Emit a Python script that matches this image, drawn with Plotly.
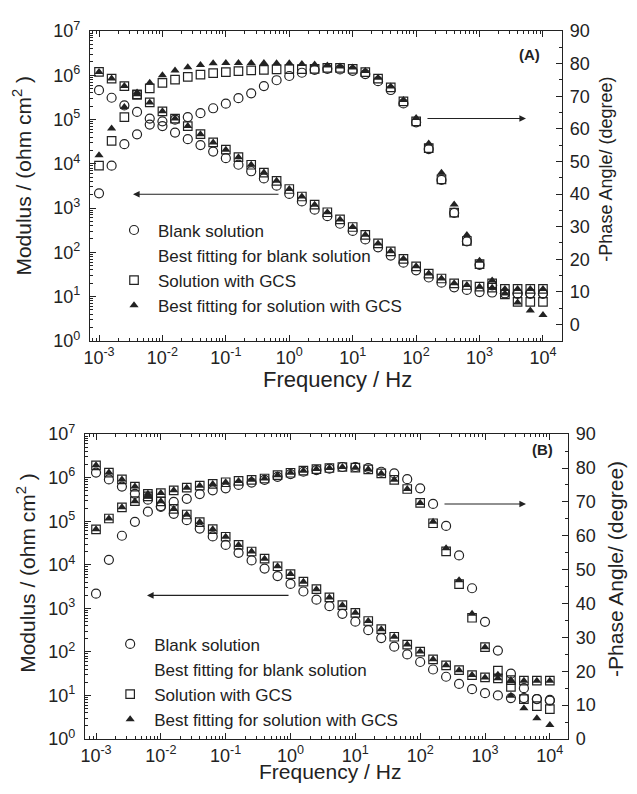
import plotly.graph_objects as go

# ---------------- data ----------------
freq = [0.001, 0.00158, 0.00251, 0.00398, 0.00631,
        0.01, 0.0158, 0.0251, 0.0398, 0.0631,
        0.1, 0.158, 0.251, 0.398, 0.631,
        1.0, 1.58, 2.51, 3.98, 6.31,
        10, 15.8, 25.1, 39.8, 63.1,
        100, 158, 251, 398, 631,
        1000, 1580, 2510, 3980, 6310, 10000]

# Panel A
A_blank_mod = [4.6e5, 3.1e5, 2.08e5, 1.48e5, 1.05e5, 7.1e4, 5.06e4, 3.6e4, 2.64e4, 1.88e4,
               1.34e4, 9.5e3, 6.76e3, 4.65e3, 3.19e3, 2.08e3, 1.41e3, 918, 653, 441,
               303, 195, 129, 84, 58, 39, 26.9, 20.5, 16.1, 14.1,
               12.6, 12.3, 11.7, 11.5, 11.5, 11.5]
A_blank_phase = [40.2, 48.7, 55.3, 58.3, 61.3, 62.3, 62.8, 63.6, 64.8, 66.3,
                 67.7, 69.4, 70.9, 73.1, 74.9, 76.2, 77.2, 78.1, 78.4, 78.2,
                 77.8, 76.8, 74.6, 71.9, 67.8, 62.0, 53.8, 44.3, 34.2, 25.5,
                 18.3, 12.0, 9.5, 9.5, 9.6, 9.6]
A_gcs_mod = [1.19e6, 8.43e5, 5.7e5, 3.72e5, 2.43e5, 1.53e5, 1.05e5, 7.1e4, 4.65e4, 3.03e4,
             2.08e4, 1.41e4, 9.5e3, 6.31e3, 4.12e3, 2.69e3, 1.82e3, 1.19e3, 802, 551,
             372, 247, 158, 105, 71, 48, 33, 25.5, 19.8, 18.2,
             16.7, 15.8, 14.8, 14.8, 14.8, 14.8]
A_gcs_phase = [48.7, 56.3, 63.6, 70.4, 72.4, 74.1, 75.1, 75.9, 76.6, 77.1,
               77.4, 77.7, 77.9, 78.1, 78.2, 78.3, 78.3, 78.4, 78.7, 78.7,
               78.4, 77.4, 75.4, 72.7, 68.4, 62.3, 54.1, 44.5, 34.3, 25.6,
               18.5, 12.6, 9.2, 6.9, 6.9, 6.9]
A_fit_mod = [1.19e6, 8.43e5, 5.7e5, 3.72e5, 2.43e5, 1.53e5, 1.05e5, 7.1e4, 4.65e4, 3.03e4,
             2.08e4, 1.41e4, 9.5e3, 6.31e3, 4.12e3, 2.69e3, 1.82e3, 1.19e3, 802, 551,
             372, 247, 158, 105, 71, 48, 33, 25.5, 19.8, 18.2,
             16.7, 15.8, 14.8, 14.8, 14.8, 14.8]
A_fit_phase = [51.9, 60.1, 66.7, 71.1, 74.1, 76.4, 77.9, 78.9, 79.6, 80.1,
               80.2, 80.2, 80.2, 80.2, 80.1, 80.1, 79.9, 79.7, 79.4, 79.1,
               78.8, 77.7, 75.7, 73.0, 68.8, 63.3, 55.5, 46.5, 36.8, 27.4,
               19.5, 13.5, 9.5, 6.7, 4.3, 2.9]

# Panel B
B_blank_mod = [1.31e6, 9.14e5, 6.24e5, 4.27e5, 3.12e5, 2.21e5, 1.48e5, 1.06e5, 6.79e4, 4.48e4,
               2.86e4, 1.88e4, 1.26e4, 8.18e3, 5.51e3, 3.63e3, 2.44e3, 1.58e3, 1.12e3, 750,
               494, 316, 208, 132, 87.5, 58.6, 39.4, 26.9, 18.4, 13.9,
               11.3, 10.0, 8.7, 8.7, 8.3, 7.9]
B_blank_phase = [42.9, 52.9, 60.0, 64.1, 67.1, 68.5, 70.0, 70.9, 72.3, 73.4,
                 74.0, 75.0, 75.7, 76.5, 77.4, 78.2, 78.9, 79.4, 79.8, 80.3,
                 80.3, 80.0, 78.9, 78.4, 76.7, 74.0, 69.4, 62.9, 54.2, 44.5,
                 34.6, 26.1, 19.3, 15.0, 11.8, 11.3]
B_gcs_mod = [1.92e6, 1.31e6, 9.14e5, 6.24e5, 4.27e5, 2.86e5, 1.92e5, 1.43e5, 9.59e4, 6.56e4,
             4.4e4, 2.86e4, 2.02e4, 1.38e4, 9.25e3, 6.11e3, 4.1e3, 2.75e3, 1.78e3, 1.18e3,
             789, 512, 332, 223, 147, 102, 67.5, 49.3, 38, 29.4,
             26, 24.7, 22.6, 21.9, 21.9, 21.9]
B_gcs_phase = [61.9, 65.1, 68.4, 70.2, 71.6, 72.6, 73.4, 74.2, 74.8, 75.3,
               75.8, 76.2, 76.5, 76.9, 77.9, 78.6, 79.2, 79.7, 80.0, 80.3,
               80.1, 79.6, 78.4, 76.5, 73.8, 69.7, 63.7, 55.4, 45.7, 35.8,
               27.1, 20.2, 15.4, 11.8, 9.7, 8.8]
B_fit_mod = [1.92e6, 1.31e6, 9.14e5, 6.24e5, 4.27e5, 2.86e5, 1.92e5, 1.43e5, 9.59e4, 6.56e4,
             4.4e4, 2.86e4, 2.02e4, 1.38e4, 9.25e3, 6.11e3, 4.1e3, 2.75e3, 1.78e3, 1.18e3,
             789, 512, 332, 223, 147, 102, 67.5, 49.3, 38, 29.4,
             26, 24.7, 22.6, 21.9, 21.9, 21.9]
B_fit_phase = [61.9, 65.1, 68.4, 70.2, 71.6, 72.6, 73.4, 74.2, 74.8, 75.3,
               75.8, 76.2, 76.5, 76.9, 77.9, 78.6, 79.2, 79.7, 80.0, 80.3,
               80.1, 79.6, 78.4, 76.5, 73.8, 69.7, 64.1, 56.3, 46.9, 37.0,
               27.1, 19.0, 12.8, 9.1, 6.1, 4.1]

series_names = ["Blank solution", "Best fitting for blank solution",
                "Solution with GCS", "Best fitting for solution with GCS"]

x_tickvals = [1e-3, 1e-2, 1e-1, 1, 10, 100, 1000, 10000]
x_ticktext = ["10<sup>-3</sup>", "10<sup>-2</sup>", "10<sup>-1</sup>", "10<sup>0</sup>",
              "10<sup>1</sup>", "10<sup>2</sup>", "10<sup>3</sup>", "10<sup>4</sup>"]
y_tickvals = [1, 10, 100, 1e3, 1e4, 1e5, 1e6, 1e7]
y_ticktext = ["10<sup>0</sup>", "10<sup>1</sup>", "10<sup>2</sup>", "10<sup>3</sup>",
              "10<sup>4</sup>", "10<sup>5</sup>", "10<sup>6</sup>", "10<sup>7</sup>"]

# ---------------- styling ----------------
INK = "#222222"
FONT = "Liberation Sans, Arial, sans-serif"
circ = dict(symbol="circle-open", size=9, color=INK, line=dict(width=1.2, color=INK))
sq = dict(symbol="square-open", size=8.5, color=INK, line=dict(width=1.2, color=INK))
tri = dict(symbol="triangle-up", size=8, color=INK, line=dict(width=0))
hidden = dict(symbol="circle", size=8, color="rgba(0,0,0,0)", line=dict(width=0))

fig = go.Figure()


def add_panel(xa, ya, ya2, legend, blank_mod, blank_phase, gcs_mod, gcs_phase, fit_mod, fit_phase):
    fig.add_trace(go.Scatter(x=freq, y=blank_mod, mode="markers", marker=circ, name=series_names[0],
                             xaxis=xa, yaxis=ya, legend=legend))
    fig.add_trace(go.Scatter(x=freq, y=blank_phase, mode="markers", marker=circ, name=series_names[0],
                             xaxis=xa, yaxis=ya2, showlegend=False))
    fig.add_trace(go.Scatter(x=[None], y=[None], mode="markers", marker=hidden, name=series_names[1],
                             xaxis=xa, yaxis=ya, legend=legend))
    fig.add_trace(go.Scatter(x=freq, y=gcs_mod, mode="markers", marker=sq, name=series_names[2],
                             xaxis=xa, yaxis=ya, legend=legend))
    fig.add_trace(go.Scatter(x=freq, y=gcs_phase, mode="markers", marker=sq, name=series_names[2],
                             xaxis=xa, yaxis=ya2, showlegend=False))
    fig.add_trace(go.Scatter(x=freq, y=fit_mod, mode="markers", marker=tri, name=series_names[3],
                             xaxis=xa, yaxis=ya, legend=legend))
    fig.add_trace(go.Scatter(x=freq, y=fit_phase, mode="markers", marker=tri, name=series_names[3],
                             xaxis=xa, yaxis=ya2, showlegend=False))


add_panel("x", "y", "y2", "legend", A_blank_mod, A_blank_phase, A_gcs_mod, A_gcs_phase, A_fit_mod, A_fit_phase)
add_panel("x2", "y3", "y4", "legend2", B_blank_mod, B_blank_phase, B_gcs_mod, B_gcs_phase, B_fit_mod, B_fit_phase)

minor_log_x = [m * 10.0 ** e for e in range(-4, 5) for m in range(2, 10)]
minor_log_y = [m * 10.0 ** e for e in range(0, 7) for m in range(2, 10)]

tickfont = dict(family=FONT, size=18, color=INK)
common_axis = dict(showline=True, linecolor=INK, linewidth=1.3, ticks="inside", ticklen=6,
                   tickwidth=1.2, tickcolor=INK, showgrid=False, zeroline=False, tickfont=tickfont)

xaxis_common = dict(common_axis, type="log", tickmode="array", tickvals=x_tickvals, ticktext=x_ticktext,
                    mirror="ticks",
                    minor=dict(ticks="inside", ticklen=3, tickwidth=1, tickcolor=INK,
                               tickmode="array", tickvals=minor_log_x, showgrid=False))
ylog_common = dict(common_axis, type="log", range=[0, 7], tickmode="array", tickvals=y_tickvals,
                   ticktext=y_ticktext, ticklabelstandoff=5,
                   minor=dict(ticks="inside", ticklen=3, tickwidth=1, tickcolor=INK,
                              tickmode="array", tickvals=minor_log_y, showgrid=False))
yphase_common = dict(common_axis, side="right", tick0=0, dtick=10, ticklabelstandoff=3,
                     minor=dict(ticks="inside", ticklen=3, tickwidth=1, tickcolor=INK, dtick=5,
                                showgrid=False))

legend_common = dict(xanchor="left", yanchor="top", bgcolor="rgba(0,0,0,0)", tracegroupgap=0,
                     itemwidth=38, font=dict(family=FONT, size=17, color=INK), itemclick=False)

# The page body has a default 8 px margin, so the figure is sized to fit inside it.
fig.update_layout(
    width=621, height=778,
    margin=dict(l=77, r=61, t=11, b=47),
    plot_bgcolor="white", paper_bgcolor="white",
    font=dict(family=FONT, color=INK),
    xaxis=dict(xaxis_common, domain=[0.01035, 0.98758], anchor="y", range=[-3.142, 4.30]),
    yaxis=dict(ylog_common, domain=[0.5625, 1.0], anchor="x"),
    yaxis2=dict(yphase_common, overlaying="y", anchor="x", range=[-5, 90]),
    xaxis2=dict(xaxis_common, domain=[0.0, 1.0], anchor="y3", range=[-3.17, 4.28]),
    yaxis3=dict(ylog_common, domain=[0.0, 0.4306], anchor="x2"),
    yaxis4=dict(yphase_common, overlaying="y3", anchor="x2", range=[0, 90]),
    legend=dict(legend_common, x=0.0518, y=0.7437),
    legend2=dict(legend_common, x=0.0438, y=0.1591),
)

base = dict(xref="paper", yref="paper", showarrow=False, xanchor="center", yanchor="middle")
ann = []
# axis titles
ann.append(dict(base, text="Modulus / (ohm cm<sup>2</sup> )", textangle=-90, x=-0.1304, y=0.7958,
                font=dict(family=FONT, size=21, color=INK)))
ann.append(dict(base, text="-Phase Angle/ (degree)", textangle=-90, x=1.0787, y=0.8042,
                font=dict(family=FONT, size=18, color=INK)))
ann.append(dict(base, text="Frequency / Hz", x=0.5238, y=0.5083,
                font=dict(family=FONT, size=22, color=INK)))
ann.append(dict(base, text="Modulus / (ohm cm<sup>2</sup> )", textangle=-90, x=-0.1222, y=0.2347,
                font=dict(family=FONT, size=21, color=INK)))
ann.append(dict(base, text="-Phase Angle/ (degree)", textangle=-90, x=1.0994, y=0.2403,
                font=dict(family=FONT, size=21, color=INK)))
ann.append(dict(base, text="Frequency / Hz", x=0.507, y=-0.0462,
                font=dict(family=FONT, size=21, color=INK)))
# panel labels
ann.append(dict(base, text="<b>(A)</b>", x=0.921, y=0.9666, font=dict(family=FONT, size=15, color=INK)))
ann.append(dict(base, text="<b>(B)</b>", x=0.948, y=0.4083, font=dict(family=FONT, size=15, color=INK)))
# arrows
arrow = dict(text="", showarrow=True, arrowhead=2, arrowsize=1.1, arrowwidth=1.2, arrowcolor=INK,
             xref="paper", yref="paper", ay=0)
ann.append(dict(arrow, x=0.0994, y=0.7694, ax=147))
ann.append(dict(arrow, x=0.913, y=0.8764, ax=-100))
ann.append(dict(arrow, x=0.1284, y=0.2028, ax=143))
ann.append(dict(arrow, x=0.913, y=0.3319, ax=-83))
fig.update_layout(annotations=ann)

fig.write_html("out.html")
